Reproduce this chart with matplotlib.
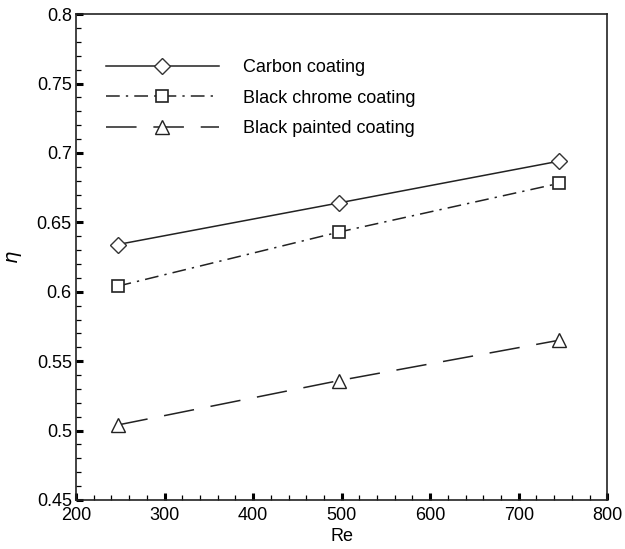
import matplotlib.pyplot as plt
from matplotlib.ticker import MultipleLocator

plt.rcParams['font.family'] = ['Liberation Sans', 'DejaVu Sans']

# data
re = [247, 497, 745]
carbon = [0.634, 0.664, 0.694]
black_chrome = [0.604, 0.643, 0.678]
black_painted = [0.504, 0.536, 0.565]

fig = plt.figure(figsize=(6.25, 5.49), dpi=100)
ax = fig.add_axes([0.1216, 0.0893, 0.85, 0.885])

ax.plot(re, carbon, color='#222222', lw=1.1, marker='D', ms=8.5,
        mfc='white', mec='#333333', mew=1.0, label='Carbon coating')
ax.plot(re, black_chrome, color='#222222', lw=1.1, dashes=(9, 4, 1.5, 4),
        marker='s', ms=8, mfc='white', mec='#222222', mew=1.2,
        label='Black chrome coating')
ax.plot(re, black_painted, color='#222222', lw=1.1, dashes=(20, 11),
        marker='^', ms=9.5, mfc='white', mec='#222222', mew=1.0,
        label='Black painted coating')

ax.set_xlim(200, 800)
ax.set_ylim(0.45, 0.8)
ax.xaxis.set_major_locator(MultipleLocator(100))
ax.xaxis.set_minor_locator(MultipleLocator(20))
ax.yaxis.set_minor_locator(MultipleLocator(0.01))
ax.set_yticks([0.45, 0.5, 0.55, 0.6, 0.65, 0.7, 0.75, 0.8])
ax.set_yticklabels(['0.45', '0.5', '0.55', '0.6', '0.65', '0.7', '0.75', '0.8'])

ax.tick_params(which='both', direction='in', top=False, right=False,
               labelsize=13, colors='black')
ax.tick_params(which='major', length=5, width=2.2)
ax.tick_params(axis='x', which='major', pad=5)
ax.tick_params(axis='y', which='major', pad=3)
ax.tick_params(which='minor', length=3.6, width=0.9)
for s in ax.spines.values():
    s.set_linewidth(1.2)
    s.set_color('#222222')

ax.set_xlabel('Re', fontsize=13, labelpad=3)
ax.set_ylabel(r'$\eta$', fontsize=14, labelpad=9)

leg = ax.legend(loc='upper left', bbox_to_anchor=(0.025, 0.941), frameon=False,
                fontsize=13, handlelength=6.3, handletextpad=1.3,
                labelspacing=0.75)

fig.savefig('out.png', dpi=100)
